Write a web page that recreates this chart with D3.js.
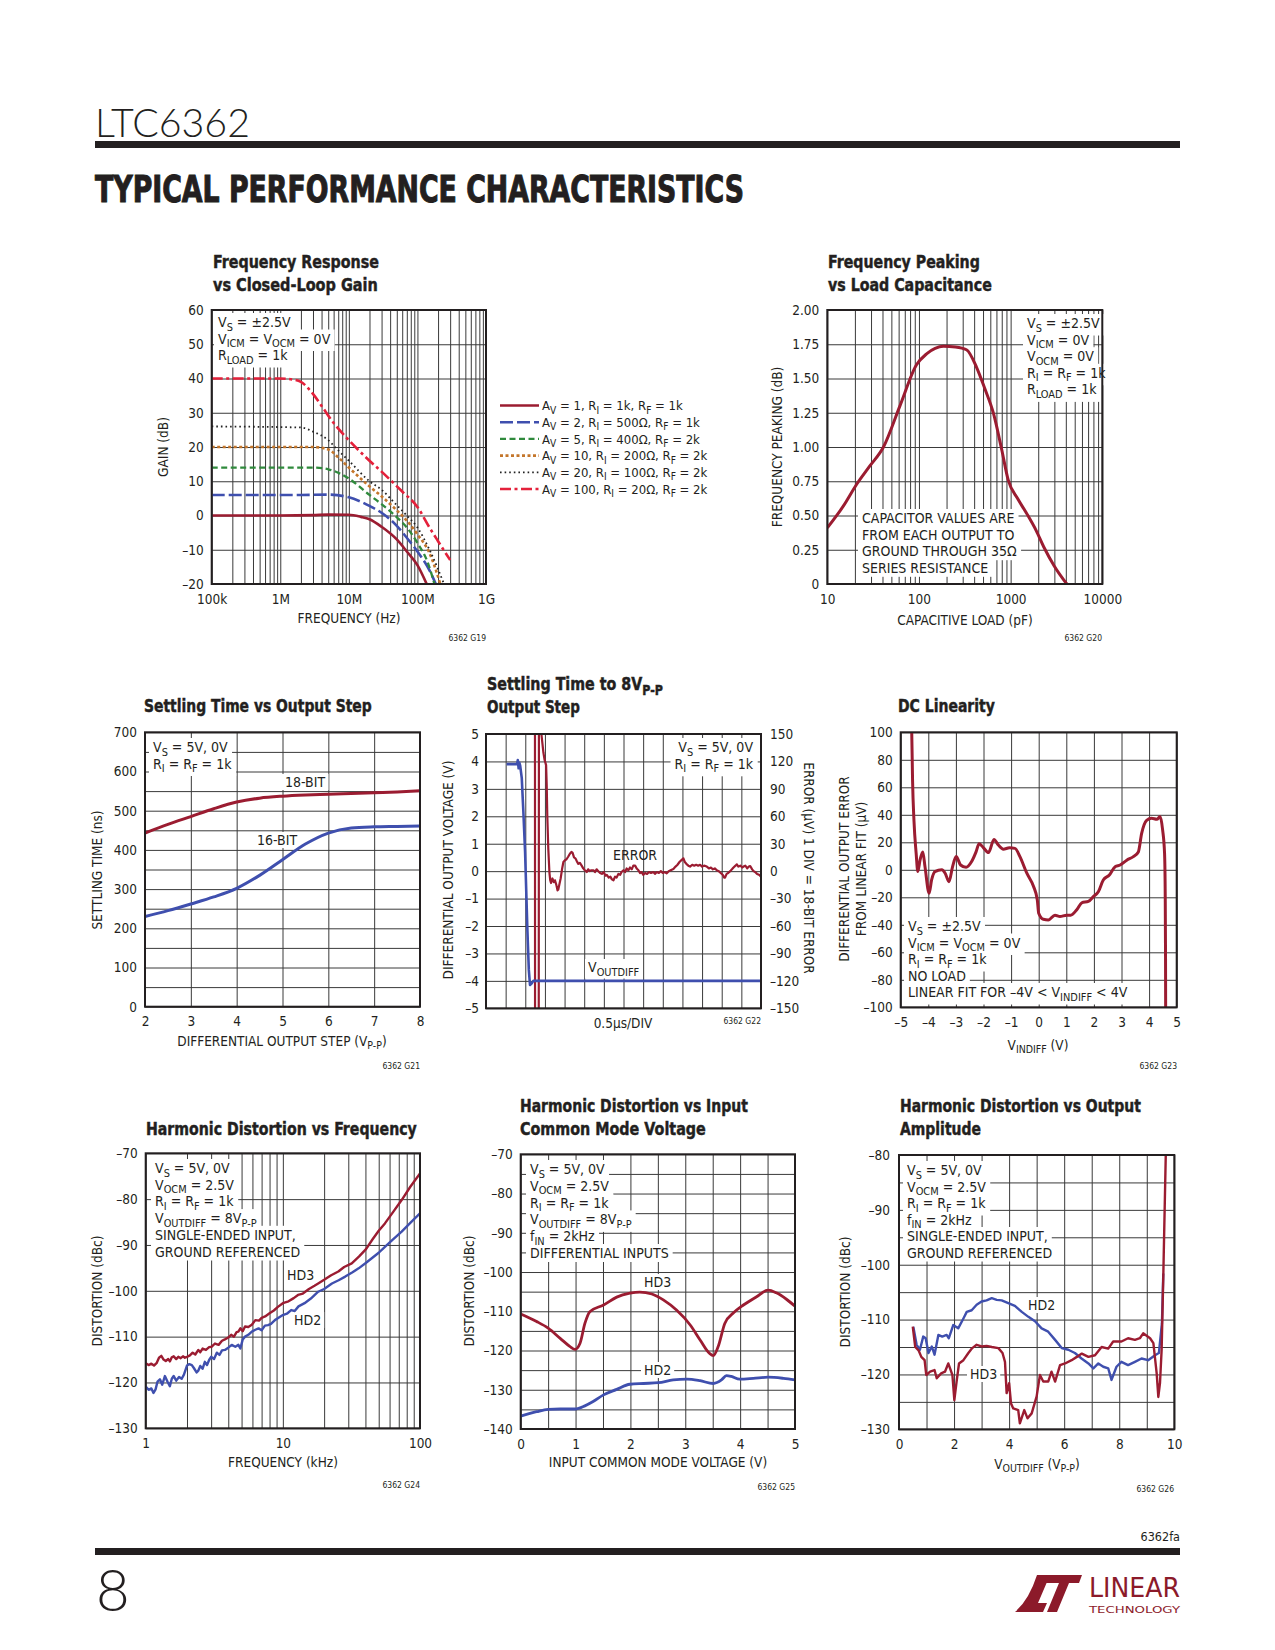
<!DOCTYPE html>
<html><head><meta charset="utf-8">
<script src="https://cdn.jsdelivr.net/npm/d3@7"></script>
<style>body{margin:0;background:#fff}</style>
</head><body>
<script>
// ---------------- DATA ----------------
// Chart G19: Frequency response vs closed-loop gain  [Hz, dB]
const gainAv1 = [[1e5,0],[1e6,0],[3e6,0.1],[5e6,0.25],[1e7,0.2],[1.5e7,-0.4],[2e7,-1.1],[3e7,-3.3],[5e7,-7],[7e7,-10.5],[1e8,-14.5],[1.4e8,-20.5]];
const gainAv2 = [[1e5,6],[2e6,6],[5e6,6.1],[1e7,5.3],[1.5e7,4],[2e7,2.8],[3e7,0.8],[5e7,-3],[7e7,-6.5],[1e8,-10.5],[1.5e8,-16],[1.9e8,-20.5]];
const gainAv5 = [[1e5,14],[3e6,14],[5e6,13.5],[7e6,12.5],[1e7,10.8],[2e7,6],[3e7,3.3],[5e7,-0.5],[7e7,-3.5],[1e8,-8],[1.4e8,-13.5],[1.8e8,-20.5]];
const gainAv10 = [[1e5,20],[3e6,20],[5e6,19.3],[7e6,17],[1e7,14],[2e7,8.5],[3e7,5.6],[5e7,1.5],[7e7,-1.5],[1e8,-5.5],[1.5e8,-11],[2.2e8,-20.5]];
const gainAv20 = [[1e5,26],[2e6,25.7],[3e6,24.5],[5e6,22],[7e6,19],[1e7,16],[2e7,10],[3e7,7.5],[5e7,3],[7e7,0],[1e8,-3.5],[1.5e8,-10],[2.5e8,-20.5]];
const gainAv100 = [[1e5,40],[1e6,40],[1.5e6,39.7],[2e6,39],[3e6,35.5],[4e6,32],[6e6,27],[1e7,22],[2e7,16],[3e7,12.8],[6e7,7],[1e8,2.5],[1.5e8,-3.5],[2e8,-7.5],[3e8,-13]];
const legendLabels = ["A_{V} = 1, R_{I} = 1k, R_{F} = 1k","A_{V} = 2, R_{I} = 500Ω, R_{F} = 1k","A_{V} = 5, R_{I} = 400Ω, R_{F} = 2k","A_{V} = 10, R_{I} = 200Ω, R_{F} = 2k","A_{V} = 20, R_{I} = 100Ω, R_{F} = 2k","A_{V} = 100, R_{I} = 20Ω, R_{F} = 2k"];
const g19XTicks = [1e5,1e6,1e7,1e8,1e9];
const g19XLabels = ["100k","1M","10M","100M","1G"];
const g19YTicks = [60,50,40,30,20,10,0,-10,-20];
const g19YLabels = ["60","50","40","30","20","10","0","–10","–20"];

// Chart G20: Frequency peaking vs load capacitance
const capLoad = [10,15,21,29,41,62,94,121,150,185,250,330,426,520,650,800,940,1200,1480,1900,2300,3000,4100];
const peaking = [0.41,0.57,0.73,0.86,1.0,1.30,1.60,1.68,1.72,1.735,1.73,1.71,1.58,1.43,1.245,0.98,0.76,0.62,0.52,0.39,0.27,0.13,0];
const g20XTicks = [10,100,1000,10000];
const g20XLabels = ["10","100","1000","10000"];
const g20YTicks = [0,0.25,0.5,0.75,1,1.25,1.5,1.75,2];
const g20YLabels = ["0","0.25","0.50","0.75","1.00","1.25","1.50","1.75","2.00"];

// Chart G21: Settling time vs output step
const stepV = [2,2.5,3,3.5,4,4.5,5,5.5,6,6.5,7,7.5,8];
const settle18 = [443,465,485,505,522,532,537,540,542,544,546,548,551];
const settle16 = [230,245,262,280,302,335,375,415,443,456,459,460,461];
const g21XLabels = ["2","3","4","5","6","7","8"];
const g21YLabels = ["0","100","200","300","400","500","600","700"];

// Chart G22: Settling time to 8Vp-p step  [division, V] and [division, µV]
const voutDiff = [[1.05,3.9],[1.58,3.9],[1.62,4.05],[1.66,3.75],[1.70,3.95],[1.74,3.85],[1.82,3.4],[1.9,2.2],[1.99,0.7],[2.11,-2.2],[2.18,-3.6],[2.24,-4.15],[2.32,-4.1],[2.41,-4.0],[14,-4.0]];
const settleError = [[2.49,400],[2.50,-400],[2.68,-400],[2.70,400],[2.78,400],[2.82,150],[2.88,138],[2.92,130],[2.98,122],[3.06,116],[3.09,95],[3.12,61],[3.17,25],[3.23,-2],[3.27,-10],[3.31,-13],[3.38,-8],[3.45,-12],[3.51,-10],[3.58,-15],[3.64,-21],[3.68,-20],[3.74,-14],[3.80,-8],[3.87,2],[3.94,10],[4.02,12],[4.10,13],[4.19,16],[4.27,19],[4.35,21],[4.41,20],[4.48,15],[4.55,14],[4.62,11],[4.70,8],[4.78,9],[4.87,6],[4.95,3],[5.03,1],[5.13,-1],[5.20,2],[5.28,0],[5.36,1],[5.47,1],[5.55,-1],[5.63,2],[5.72,0],[5.81,-2],[5.9,-3],[6.0,-1],[6.08,-5],[6.15,-4],[6.25,-7],[6.33,-6],[6.41,-9],[6.49,-10],[6.57,-6],[6.65,-7],[6.74,-3],[6.83,-4],[6.9,-1],[7.0,1],[7.08,-1],[7.16,3],[7.25,1],[7.33,4],[7.42,2],[7.5,6],[7.59,6],[7.67,3],[7.76,1],[7.84,-2],[7.92,-1],[8.01,-4],[8.1,-2],[8.2,-3],[8.3,-1],[8.4,-2],[8.52,-1],[8.6,-3],[8.7,-1],[8.8,-2],[8.9,0],[9.0,-2],[9.1,-1],[9.2,-2.4],[9.3,0],[9.4,1],[9.54,2.4],[9.65,5],[9.75,7],[9.85,10],[9.95,12],[10.05,14],[10.12,10],[10.2,8],[10.3,6],[10.39,5],[10.5,7],[10.6,6],[10.7,7],[10.8,6],[10.9,7],[11.0,5],[11.1,6],[11.24,5],[11.35,3],[11.45,4],[11.55,2],[11.65,3],[11.75,1],[11.85,0],[11.95,-2],[12.05,-4],[12.12,-7],[12.17,-7],[12.25,-3],[12.33,-2],[12.43,0],[12.52,2],[12.6,4],[12.7,6],[12.77,7.5],[12.85,5],[12.95,6],[13.05,4],[13.11,5],[13.2,6],[13.3,3],[13.38,5],[13.45,5.6],[13.55,2],[13.62,0],[13.7,-1],[13.8,-3],[13.9,-4],[14.0,-6]];
const g22LeftLabels = ["5","4","3","2","1","0","–1","–2","–3","–4","–5"];
const g22RightLabels = ["150","120","90","60","30","0","–30","–60","–90","–120","–150"];

// Chart G23: DC linearity [V, µV]
const dcLinearity = [[-4.60,100],[-4.57,65],[-4.52,36],[-4.44,12],[-4.38,-1.3],[-4.30,7],[-4.20,13],[-4.12,2.3],[-3.97,-17],[-3.88,-7.4],[-3.76,-1.3],[-3.51,0],[-3.39,-2.5],[-3.25,-8.6],[-3.12,2.3],[-2.99,9.6],[-2.83,3.5],[-2.63,1.8],[-2.43,6],[-2.27,13],[-2.16,19],[-2.0,16],[-1.82,12.5],[-1.62,22],[-1.46,18],[-1.28,15],[-1.06,16],[-0.86,15.6],[-0.68,9.6],[-0.43,-2.5],[-0.19,-12],[-0.05,-22],[0.0,-31.6],[0.17,-36],[0.35,-36.5],[0.59,-33],[0.77,-34],[1.01,-33],[1.16,-33],[1.38,-29],[1.56,-24],[1.80,-23],[1.98,-19.5],[2.16,-16],[2.34,-7.4],[2.56,-3.8],[2.77,2.3],[2.95,3.5],[3.19,7],[3.43,9.6],[3.61,13],[3.73,26.5],[3.91,36],[4.09,37.5],[4.28,36.7],[4.40,38.7],[4.49,29],[4.56,12],[4.585,-20],[4.595,-60],[4.60,-100]];
const g23XLabels = ["–5","–4","–3","–2","–1","0","1","2","3","4","5"];
const g23YLabels = ["100","80","60","40","20","0","–20","–40","–60","–80","–100"];

// Chart G24: Harmonic distortion vs frequency [kHz, dBc]
const hd3VsFreq = [[1,-115.8],[1.05,-116.2],[1.1,-115.9],[1.15,-116.3],[1.2,-115.8],[1.25,-114.6],[1.3,-114.2],[1.35,-115.0],[1.4,-115.3],[1.46,-114.9],[1.5,-115.4],[1.55,-114.5],[1.6,-114.3],[1.67,-114.9],[1.73,-114.4],[1.8,-114.7],[1.87,-114.3],[1.93,-114.6],[2.0,-114.4],[2.1,-114.1],[2.2,-113.5],[2.3,-113.9],[2.42,-112.9],[2.5,-113.4],[2.6,-112.6],[2.75,-112.9],[2.9,-112.3],[3.03,-112.2],[3.2,-111.5],[3.4,-111.8],[3.6,-110.9],[3.78,-110.6],[4.0,-110.2],[4.2,-109.6],[4.4,-110.0],[4.6,-109.0],[4.74,-108.9],[4.9,-108.2],[5.1,-108.8],[5.3,-107.8],[5.6,-107.9],[5.94,-107.4],[6.3,-106.4],[6.7,-106.5],[7.0,-105.9],[7.43,-105.6],[8.0,-104.9],[8.6,-104.3],[9.2,-103.5],[10,-102.7],[11,-102.3],[12,-101.6],[12.9,-100.9],[14,-100.6],[15.5,-99.6],[17,-98.9],[18.1,-98.4],[20,-97.6],[22.5,-96.6],[25.4,-95.8],[28,-94.8],[31.8,-94],[36,-92.5],[40.4,-90.9],[45,-88.8],[50,-86.9],[55.5,-85.3],[63,-83],[73.5,-80.2],[85,-77.3],[100,-74.4]];
const hd2VsFreq = [[1,-120.9],[1.05,-121.6],[1.1,-121.3],[1.14,-122.3],[1.18,-121.5],[1.22,-119.8],[1.27,-119.3],[1.32,-120.5],[1.38,-118.6],[1.44,-119.8],[1.5,-120.8],[1.55,-119.2],[1.6,-118.6],[1.67,-119.6],[1.75,-118.8],[1.83,-119.2],[1.9,-118.3],[2.0,-116.3],[2.08,-116.0],[2.17,-116.2],[2.25,-116.9],[2.35,-117.8],[2.42,-117.4],[2.5,-116.4],[2.6,-117.0],[2.7,-115.5],[2.8,-116.2],[2.9,-115.1],[3.0,-114.4],[3.15,-114.9],[3.3,-113.5],[3.45,-114.0],[3.6,-113.0],[3.78,-112.9],[4.0,-112.4],[4.24,-111.8],[4.5,-112.2],[4.74,-111.8],[4.9,-112.6],[5.1,-110.6],[5.3,-110.0],[5.6,-109.6],[5.94,-108.9],[6.3,-108.5],[6.65,-108.2],[7.0,-108.6],[7.4,-107.6],[7.8,-107.5],[8.2,-107.2],[8.75,-106.4],[9.3,-105.9],[10,-105.3],[10.7,-105.0],[11.5,-104.2],[12.2,-104.4],[13,-103.4],[14.4,-102.7],[16,-101.7],[18.1,-100.2],[20,-99.6],[22.8,-98.4],[25.5,-97.7],[28.5,-96.9],[32,-96.0],[35.7,-95.1],[40,-94.0],[44.5,-92.9],[50,-91.7],[55.5,-90.4],[63,-88.9],[73.5,-87.1],[85,-85.2],[100,-83.1]];
const g24XTicks = [1,10,100];
const g24XLabels = ["1","10","100"];
const g24YLabels = ["–70","–80","–90","–100","–110","–120","–130"];

// Chart G25: Harmonic distortion vs input common mode voltage [V, dBc]
const hd3VsVcm = [[0,-110.7],[0.29,-112.6],[0.5,-114.3],[0.72,-116.9],[0.9,-119],[0.99,-119.7],[1.08,-118.2],[1.17,-113.1],[1.26,-110.1],[1.51,-108.4],[1.75,-106.4],[1.99,-105.4],[2.17,-105.1],[2.39,-105.6],[2.6,-107.1],[2.84,-109.7],[3.09,-113.5],[3.27,-117.3],[3.44,-120.7],[3.51,-121.3],[3.6,-119],[3.72,-113.1],[3.88,-110.4],[4.06,-108.4],[4.3,-106.3],[4.51,-104.6],[4.66,-105.3],[4.85,-107],[5,-108.7]];
const hd2VsVcm = [[0,-136.7],[0.29,-135.6],[0.5,-135],[0.72,-134.9],[0.99,-134.9],[1.17,-134.1],[1.32,-133],[1.51,-131.3],[1.75,-129.9],[1.99,-128.6],[2.24,-128.4],[2.51,-128.2],[2.78,-127.5],[3.03,-127.3],[3.27,-127.7],[3.51,-128.4],[3.66,-127.5],[3.75,-126.4],[3.84,-126.6],[3.99,-127.3],[4.24,-127.1],[4.51,-126.8],[4.79,-127.1],[5,-127.5]];
const g25XLabels = ["0","1","2","3","4","5"];
const g25YLabels = ["–70","–80","–90","–100","–110","–120","–130","–140"];

// Chart G26: Harmonic distortion vs output amplitude [Vp-p, dBc]
const hd2VsAmp = [[0.52,-111.3],[0.64,-114.6],[0.76,-115.5],[0.88,-113.1],[0.97,-113.4],[1.07,-116.1],[1.19,-114.9],[1.29,-116.4],[1.43,-112.8],[1.57,-113.1],[1.73,-112.8],[1.81,-113.4],[1.97,-111],[2.15,-111.6],[2.34,-109.8],[2.46,-108.6],[2.64,-108.3],[2.82,-107.3],[3.0,-106.7],[3.18,-106.5],[3.37,-106.1],[3.55,-106.4],[3.73,-106.5],[3.97,-107],[4.21,-107.5],[4.46,-108.6],[4.7,-109.5],[4.94,-110.3],[5.18,-111.6],[5.42,-112.2],[5.67,-113.7],[5.91,-115.2],[6.15,-115.5],[6.39,-116.1],[6.63,-117.1],[6.88,-118],[7.06,-118.9],[7.24,-118],[7.42,-118.6],[7.6,-118.9],[7.72,-121],[7.9,-118.6],[8.08,-117.7],[8.32,-118.3],[8.57,-117.7],[8.81,-117.1],[9.05,-117.4],[9.3,-116.5],[9.44,-116.1],[9.55,-110.7],[9.6,-101.6]];
const hd3VsAmp = [[0.5,-111.3],[0.59,-115],[0.71,-115.6],[0.81,-116.8],[0.93,-117.4],[0.99,-120.1],[1.13,-119.5],[1.29,-119.2],[1.37,-120.7],[1.53,-119.8],[1.67,-119.5],[1.79,-118],[1.94,-120.1],[2.01,-124.7],[2.1,-121],[2.18,-118],[2.34,-117.4],[2.52,-116.1],[2.66,-115.2],[2.82,-114.6],[3.0,-114.9],[3.18,-114.8],[3.37,-115],[3.61,-115.2],[3.76,-116.1],[3.85,-117.7],[3.91,-123.4],[4.0,-121.6],[4.07,-125.3],[4.15,-126.2],[4.33,-126.5],[4.39,-128.9],[4.55,-126.5],[4.67,-128],[4.82,-127.1],[5.0,-124],[5.12,-120.1],[5.24,-121.3],[5.42,-121.3],[5.54,-119.5],[5.67,-121.3],[5.85,-118.3],[6.03,-118],[6.27,-117.4],[6.46,-116.8],[6.64,-116.2],[6.88,-116.8],[7.12,-116.5],[7.36,-115],[7.6,-115.3],[7.78,-114],[8.08,-114],[8.32,-113.4],[8.57,-113.7],[8.75,-113.4],[8.87,-112.5],[9.12,-113.4],[9.24,-114.3],[9.36,-119.8],[9.42,-124.1],[9.48,-121.6],[9.54,-115.5],[9.6,-102.2],[9.69,-80],[9.72,-75]];
const g26XLabels = ["0","2","4","6","8","10"];
const g26YLabels = ["–80","–90","–100","–110","–120","–130"];

// ---------------- STYLE ----------------
const FONT = '"Liberation Sans Narrow","Arial Narrow","DejaVu Sans Condensed",sans-serif';
const COL = {dred:'#9b1c31', blue:'#3f4fae', green:'#2f8a3c', orange:'#c4762b', black:'#222', red:'#e4213b'};
const svg = d3.select('body').append('svg').attr('width',1275).attr('height',1650)
  .attr('font-family',FONT).style('background','#fff');

function rich(t, str, fs) {
  const parts = str.split(/(_\{[^}]*\})/);
  let sub = false;
  parts.forEach(p => {
    if (!p) return;
    if (p.startsWith('_{')) {
      t.append('tspan').attr('font-size', fs*0.78).attr('dy', fs*0.25).text(p.slice(2,-1));
      sub = true;
    } else {
      const s = t.append('tspan').text(p);
      if (sub) { s.attr('dy', -fs*0.25); sub = false; }
    }
  });
  return t;
}
function txt(layer, x, y, str, fs, opt={}) {
  const t = layer.append('text').attr('x',x).attr('y',y).attr('font-size',fs)
    .attr('text-anchor',opt.anchor||'start').attr('fill',opt.fill||'#231f20');
  if (opt.weight) t.attr('font-weight',opt.weight);
  if (opt.rotate) t.attr('transform',`rotate(${opt.rotate},${x},${y})`);
  rich(t, str, fs);
  return t;
}
function logGrid(a, b) { const v=[]; for (let d=a; d<b; d*=10) for (let k=1;k<10;k++) v.push(d*k); v.push(b); return v; }
function stepGrid(a, b, s) { const v=[]; for (let i=0; a+i*s<=b+1e-9; i++) v.push(+(a+i*s).toFixed(6)); return v; }

let clipId = 0;
function buildChart(c) {
  const g = svg.append('g');
  const L = {grid:g.append('g'), bg:g.append('g'), data:g.append('g'), text:g.append('g'), frame:g.append('g')};
  const H = c.B - c.T, W = c.R - c.L;
  const x = c.x.range([c.L, c.R]), y = c.y.range([c.B, c.T]);
  const gridStyle = s => { s.select('.domain').remove(); s.selectAll('line').attr('stroke','#3a3a3a').attr('stroke-width',1); };
  L.grid.append('g').attr('transform',`translate(0,${c.B})`)
    .call(d3.axisBottom(x).tickValues(c.gridX).tickSize(-H).tickFormat('')).call(gridStyle);
  L.grid.append('g').attr('transform',`translate(${c.L},0)`)
    .call(d3.axisLeft(y).tickValues(c.gridY).tickSize(-W).tickFormat('')).call(gridStyle);
  const lab = s => { s.select('.domain').remove(); s.attr('font-family',FONT).attr('font-size',13.5); s.selectAll('text').attr('fill','#231f20'); };
  if (c.xTicks) L.text.append('g').attr('transform',`translate(0,${c.B})`)
    .call(d3.axisBottom(x).tickValues(c.xTicks).tickFormat((d,i)=>c.xLabels[i]).tickSize(0).tickPadding(10)).call(lab);
  L.text.append('g').attr('transform',`translate(${c.L},0)`)
    .call(d3.axisLeft(y).tickValues(c.yTicks).tickFormat((d,i)=>c.yLabels[i]).tickSize(0).tickPadding(c.yPad||8)).call(lab);
  const id = 'clip'+(clipId++);
  svg.append('defs').append('clipPath').attr('id',id).append('rect').attr('x',c.L).attr('y',c.T).attr('width',W).attr('height',H);
  const plot = L.data.append('g').attr('clip-path',`url(#${id})`);
  L.frame.append('rect').attr('x',c.L).attr('y',c.T).attr('width',W).attr('height',H)
    .attr('fill','none').attr('stroke','#231f20').attr('stroke-width',2);
  return {g, L, x, y, plot, c};
}
function series(ch, data, opt) {
  const line = d3.line().x(d=>ch.x(d[0])).y(d=>ch.y(d[1])).curve(opt.curve||d3.curveLinear);
  const p = ch.plot.append('path').attr('d', line(data)).attr('fill','none')
    .attr('stroke',opt.color).attr('stroke-width',opt.w||2.6)
    .attr('stroke-linejoin','round').attr('stroke-linecap', opt.cap||'butt');
  if (opt.dash) p.attr('stroke-dasharray',opt.dash);
  return p;
}
function annot(ch, lines, x, y0, dy, anchor) {
  lines.forEach((s,i)=>{
    const t = txt(ch.L.text, x, y0+i*dy, s, 14, {anchor});
    const b = t.node().getBBox();
    ch.L.bg.append('rect').attr('x',b.x-4).attr('y',b.y-1).attr('width',b.width+8).attr('height',b.height+2).attr('fill','#fff');
  });
}
function label(ch, x, y, s, bg) {
  const t = txt(ch.L.text, x, y, s, 14);
  if (bg) { const b = t.node().getBBox();
    ch.L.bg.append('rect').attr('x',b.x-3).attr('y',b.y).attr('width',b.width+6).attr('height',b.height).attr('fill','#fff'); }
}
// bold chart titles, squeezed horizontally to the condensed width of the original face
function title(lines, x, y0, widths) {
  lines.forEach((s,i)=>{
    const yy = y0 + i*23;
    const g = svg.append('g').attr('transform',`translate(${x},${yy})`);
    const t = txt(g, 0, 0, s, 18.5, {weight:'bold'});
    t.attr('stroke','#231f20').attr('stroke-width',0.45);
    const w = t.node().getBBox().width;
    g.attr('transform',`translate(${x},${yy}) scale(${widths[i]/w},1)`);
  });
}
function code(x, y, s) { svg.append('text').attr('x',x).attr('y',y).attr('font-size',8.5).attr('text-anchor','end').attr('fill','#231f20').text(s); }

// ---------------- PAGE HEADER / FOOTER ----------------
svg.append('text').attr('x',95).attr('y',137).attr('font-family','Lato, "Open Sans", sans-serif').attr('font-weight',300)
  .attr('font-size',40).attr('fill','#231f20').attr('textLength',155).attr('lengthAdjust','spacingAndGlyphs').text('LTC6362');
svg.append('rect').attr('x',95).attr('y',141).attr('width',1085).attr('height',7).attr('fill','#231f20');
svg.append('text').attr('x',95).attr('y',202).attr('font-size',37).attr('font-weight','bold').attr('fill','#231f20')
  .attr('stroke','#231f20').attr('stroke-width',1).attr('textLength',649).attr('lengthAdjust','spacingAndGlyphs')
  .text('TYPICAL PERFORMANCE CHARACTERISTICS');
svg.append('text').attr('x',1180).attr('y',1541).attr('font-size',12.5).attr('text-anchor','end').attr('fill','#231f20').text('6362fa');
svg.append('rect').attr('x',95).attr('y',1548).attr('width',1085).attr('height',7).attr('fill','#231f20');
svg.append('text').attr('x',96).attr('y',1611).attr('font-family','Lato, "Open Sans", sans-serif').attr('font-weight',300)
  .attr('font-size',58).attr('fill','#231f20').text('8');
// logo
svg.append('path').attr('d','M1037,1575 L1050,1575 L1038,1603 L1047,1603 L1043,1612 L1015,1612 Q1029,1600 1037,1575 Z').attr('fill','#8c1a2a');
svg.append('path').attr('d','M1047,1575 L1082,1575 L1079,1583 L1069,1583 L1057,1612 L1047,1612 L1059,1583 L1044,1583 Z').attr('fill','#8c1a2a');
svg.append('text').attr('x',1089).attr('y',1597).attr('font-size',26).attr('fill','#8c1a2a')
  .attr('textLength',91).attr('lengthAdjust','spacingAndGlyphs').text('LINEAR');
svg.append('text').attr('x',1089).attr('y',1613).attr('font-size',9).attr('fill','#8c1a2a')
  .attr('textLength',91).attr('lengthAdjust','spacingAndGlyphs').text('TECHNOLOGY');

// ---------------- G19 ----------------
{
  title(["Frequency Response","vs Closed-Loop Gain"], 213, 268, [166,165]);
  const ch = buildChart({L:211.7,R:486,T:310,B:584, x:d3.scaleLog().domain([1e5,1e9]), y:d3.scaleLinear().domain([-20,60]),
    gridX:logGrid(1e5,1e9), gridY:stepGrid(-20,60,10), xTicks:g19XTicks, xLabels:g19XLabels, yTicks:g19YTicks, yLabels:g19YLabels});
  const styles = [
    {d:gainAv1, color:COL.dred, w:2.6},
    {d:gainAv2, color:COL.blue, dash:'13,4', w:2.6},
    {d:gainAv5, color:COL.green, dash:'6,3.5', w:2.3},
    {d:gainAv10, color:COL.orange, dash:'3,2.5', w:2.6},
    {d:gainAv20, color:COL.black, dash:'1.6,3', w:1.8},
    {d:gainAv100, color:COL.red, dash:'11,3.5,3,3.5', w:2.6}];
  styles.forEach(s=>series(ch, s.d, {...s, curve:d3.curveMonotoneX}));
  annot(ch, ["V_{S} = ±2.5V","V_{ICM} = V_{OCM} = 0V","R_{LOAD} = 1k"], 218, 327, 16.5);
  txt(svg,168,447,"GAIN (dB)",13.5,{anchor:'middle',rotate:-90});
  txt(svg,349,623,"FREQUENCY (Hz)",13.5,{anchor:'middle'});
  code(486,641,"6362 G19");
  // legend
  styles.forEach((s,i)=>{
    const yy = 405.5 + i*16.7;
    const l = svg.append('line').attr('x1',500).attr('x2',539).attr('y1',yy).attr('y2',yy)
      .attr('stroke',s.color).attr('stroke-width',s.w);
    if (s.dash) l.attr('stroke-dasharray',s.dash);
    txt(svg,542,yy+4.8,legendLabels[i],13);
  });
}

// ---------------- G20 ----------------
{
  title(["Frequency Peaking","vs Load Capacitance"], 828, 268, [152,164]);
  const ch = buildChart({L:827.3,R:1102.3,T:310,B:584, x:d3.scaleLog().domain([10,1e4]), y:d3.scaleLinear().domain([0,2]),
    gridX:logGrid(10,1e4), gridY:stepGrid(0,2,0.25), xTicks:g20XTicks, xLabels:g20XLabels, yTicks:g20YTicks, yLabels:g20YLabels});
  series(ch, capLoad.map((c,i)=>[c,peaking[i]]), {color:COL.dred, w:3, curve:d3.curveMonotoneX});
  annot(ch, ["V_{S} = ±2.5V","V_{ICM} = 0V","V_{OCM} = 0V","R_{I} = R_{F} = 1k","R_{LOAD} = 1k"], 1027, 328, 16.6);
  annot(ch, ["CAPACITOR VALUES ARE","FROM EACH OUTPUT TO","GROUND THROUGH 35Ω","SERIES RESISTANCE"], 862, 523, 16.6);
  txt(svg,782,447,"FREQUENCY PEAKING (dB)",13.5,{anchor:'middle',rotate:-90});
  txt(svg,965,625,"CAPACITIVE LOAD (pF)",13.5,{anchor:'middle'});
  code(1102,641,"6362 G20");
}

// ---------------- G21 ----------------
{
  title(["Settling Time vs Output Step"], 144, 712, [228]);
  const ch = buildChart({L:145,R:420,T:732.3,B:1006.7, x:d3.scaleLinear().domain([2,8]), y:d3.scaleLinear().domain([0,700]),
    gridX:stepGrid(2,8,1), gridY:stepGrid(0,700,50), xTicks:stepGrid(2,8,1), xLabels:g21XLabels, yTicks:stepGrid(0,700,100), yLabels:g21YLabels});
  series(ch, stepV.map((v,i)=>[v,settle18[i]]), {color:COL.dred, w:3, curve:d3.curveMonotoneX});
  series(ch, stepV.map((v,i)=>[v,settle16[i]]), {color:COL.blue, w:3, curve:d3.curveMonotoneX});
  annot(ch, ["V_{S} = 5V, 0V","R_{I} = R_{F} = 1k"], 153, 752, 16.5);
  label(ch, 285, 787, "18-BIT", true);
  label(ch, 257, 845, "16-BIT", true);
  txt(svg,102,870,"SETTLING TIME (ns)",13.5,{anchor:'middle',rotate:-90});
  txt(svg,282,1046,"DIFFERENTIAL OUTPUT STEP (V_{P-P})",13.5,{anchor:'middle'});
  code(420,1069,"6362 G21");
}

// ---------------- G22 ----------------
{
  title(["Settling Time to 8V_{P-P}","Output Step"], 487, 690, [176,93]);
  const ch = buildChart({L:486,R:761,T:734,B:1008.3, x:d3.scaleLinear().domain([0,14]), y:d3.scaleLinear().domain([-5,5]),
    gridX:stepGrid(0,14,1), gridY:stepGrid(-5,5,1), yTicks:stepGrid(-5,5,1).reverse(), yLabels:g22LeftLabels, yPad:7});
  const y2 = d3.scaleLinear().domain([-150,150]).range([1008.3,734]);
  ch.L.text.append('g').attr('transform','translate(761,0)')
    .call(d3.axisRight(y2).tickValues(stepGrid(-150,150,30).reverse()).tickFormat((d,i)=>g22RightLabels[i]).tickSize(0).tickPadding(9))
    .call(s=>{s.select('.domain').remove(); s.attr('font-family',FONT).attr('font-size',13.5); s.selectAll('text').attr('fill','#231f20');});
  const errLine = d3.line().x(d=>ch.x(d[0])).y(d=>y2(d[1]));
  ch.plot.append('path').attr('d',errLine(settleError)).attr('fill','none').attr('stroke',COL.dred).attr('stroke-width',2.2).attr('stroke-linejoin','round');
  series(ch, voutDiff, {color:COL.blue, w:2.6});
  annot(ch, ["V_{S} = 5V, 0V","R_{I} = R_{F} = 1k"], 753, 752, 16.8, 'end');
  label(ch, 613, 860, "ERROR", false);
  label(ch, 588, 972, "V_{OUTDIFF}", true);
  txt(svg,453,870,"DIFFERENTIAL OUTPUT VOLTAGE (V)",13.5,{anchor:'middle',rotate:-90});
  txt(svg,804,868,"ERROR (µV) 1 DIV = 18-BIT ERROR",13.5,{anchor:'middle',rotate:90});
  txt(svg,623,1028,"0.5µs/DIV",13.5,{anchor:'middle'});
  code(761,1024,"6362 G22");
}

// ---------------- G23 ----------------
{
  title(["DC Linearity"], 898, 712, [97]);
  const ch = buildChart({L:900.7,R:1176.7,T:732.3,B:1007.3, x:d3.scaleLinear().domain([-5,5]), y:d3.scaleLinear().domain([-100,100]),
    gridX:stepGrid(-5,5,1), gridY:stepGrid(-100,100,20), xTicks:stepGrid(-5,5,1), xLabels:g23XLabels, yTicks:stepGrid(-100,100,20).reverse(), yLabels:g23YLabels});
  series(ch, dcLinearity, {color:COL.dred, w:3, curve:d3.curveMonotoneX});
  annot(ch, ["V_{S} = ±2.5V","V_{ICM} = V_{OCM} = 0V","R_{I} = R_{F} = 1k","NO LOAD","LINEAR FIT FOR –4V < V_{INDIFF} < 4V"], 908, 931, 16.5);
  txt(svg,849,869,"DIFFERENTIAL OUTPUT ERROR",13.5,{anchor:'middle',rotate:-90});
  txt(svg,866,869,"FROM LINEAR FIT (µV)",13.5,{anchor:'middle',rotate:-90});
  txt(svg,1038,1050,"V_{INDIFF} (V)",13.5,{anchor:'middle'});
  code(1177,1069,"6362 G23");
}

// ---------------- G24 ----------------
{
  title(["Harmonic Distortion vs Frequency"], 146, 1135, [271]);
  const ch = buildChart({L:145.7,R:420,T:1153.3,B:1428.3, x:d3.scaleLog().domain([1,100]), y:d3.scaleLinear().domain([-130,-70]),
    gridX:logGrid(1,100), gridY:stepGrid(-130,-70,10), xTicks:g24XTicks, xLabels:g24XLabels, yTicks:stepGrid(-130,-70,10).reverse(), yLabels:g24YLabels});
  series(ch, hd2VsFreq, {color:COL.blue, w:2.4});
  series(ch, hd3VsFreq, {color:COL.dred, w:2.4});
  annot(ch, ["V_{S} = 5V, 0V","V_{OCM} = 2.5V","R_{I} = R_{F} = 1k","V_{OUTDIFF} = 8V_{P-P}","SINGLE-ENDED INPUT,","GROUND REFERENCED"], 155, 1173, 16.7);
  label(ch, 287, 1280, "HD3", true);
  label(ch, 294, 1325, "HD2", true);
  txt(svg,102,1291,"DISTORTION (dBc)",13.5,{anchor:'middle',rotate:-90});
  txt(svg,283,1467,"FREQUENCY (kHz)",13.5,{anchor:'middle'});
  code(420,1488,"6362 G24");
}

// ---------------- G25 ----------------
{
  title(["Harmonic Distortion vs Input","Common Mode Voltage"], 520, 1112, [228,186]);
  const ch = buildChart({L:520.7,R:795,T:1154.3,B:1429, x:d3.scaleLinear().domain([0,5]), y:d3.scaleLinear().domain([-140,-70]),
    gridX:stepGrid(0,5,0.5), gridY:stepGrid(-140,-70,5), xTicks:stepGrid(0,5,1), xLabels:g25XLabels, yTicks:stepGrid(-140,-70,10).reverse(), yLabels:g25YLabels});
  series(ch, hd3VsVcm, {color:COL.dred, w:2.8, curve:d3.curveMonotoneX});
  series(ch, hd2VsVcm, {color:COL.blue, w:2.8, curve:d3.curveMonotoneX});
  annot(ch, ["V_{S} = 5V, 0V","V_{OCM} = 2.5V","R_{I} = R_{F} = 1k","V_{OUTDIFF} = 8V_{P-P}","f_{IN} = 2kHz","DIFFERENTIAL INPUTS"], 530, 1174, 16.8);
  label(ch, 644, 1287, "HD3", true);
  label(ch, 644, 1375, "HD2", true);
  txt(svg,474,1291,"DISTORTION (dBc)",13.5,{anchor:'middle',rotate:-90});
  txt(svg,658,1467,"INPUT COMMON MODE VOLTAGE (V)",13.5,{anchor:'middle'});
  code(795,1490,"6362 G25");
}

// ---------------- G26 ----------------
{
  title(["Harmonic Distortion vs Output","Amplitude"], 900, 1112, [241,81]);
  const ch = buildChart({L:899,R:1174.3,T:1155,B:1429.3, x:d3.scaleLinear().domain([0,10]), y:d3.scaleLinear().domain([-130,-80]),
    gridX:stepGrid(0,10,1), gridY:stepGrid(-130,-80,5), xTicks:stepGrid(0,10,2), xLabels:g26XLabels, yTicks:stepGrid(-130,-80,10).reverse(), yLabels:g26YLabels, yPad:9});
  series(ch, hd2VsAmp, {color:COL.blue, w:2.4});
  series(ch, hd3VsAmp, {color:COL.dred, w:2.4});
  annot(ch, ["V_{S} = 5V, 0V","V_{OCM} = 2.5V","R_{I} = R_{F} = 1k","f_{IN} = 2kHz","SINGLE-ENDED INPUT,","GROUND REFERENCED"], 907, 1175, 16.5);
  label(ch, 1028, 1310, "HD2", true);
  label(ch, 970, 1379, "HD3", true);
  txt(svg,850,1292,"DISTORTION (dBc)",13.5,{anchor:'middle',rotate:-90});
  txt(svg,1037,1469,"V_{OUTDIFF} (V_{P-P})",13.5,{anchor:'middle'});
  code(1174,1492,"6362 G26");
}
</script>
</body></html>
